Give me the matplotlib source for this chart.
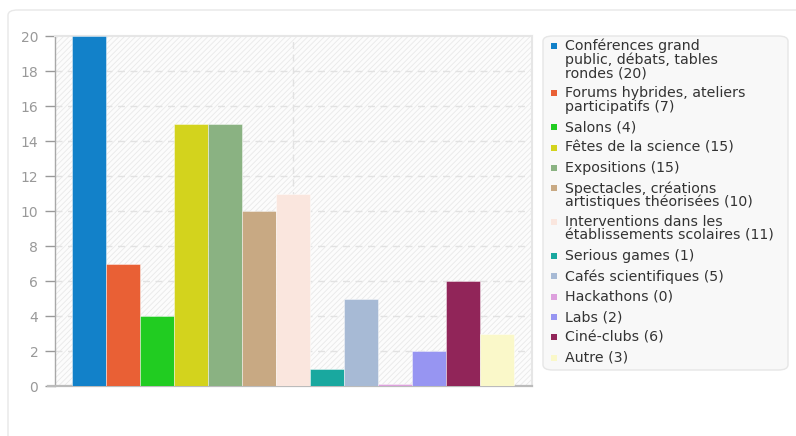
import matplotlib
matplotlib.use("Agg")
import matplotlib.pyplot as plt
from matplotlib.patches import Rectangle, FancyBboxPatch

plt.rcParams['font.family'] = ['DejaVu Sans']
plt.rcParams['hatch.linewidth'] = 0.6

labels = [
    "Conférences grand\npublic, débats, tables\nrondes",
    "Forums hybrides, ateliers\nparticipatifs",
    "Salons",
    "Fêtes de la science",
    "Expositions",
    "Spectacles, créations\nartistiques théorisées",
    "Interventions dans les\nétablissements scolaires",
    "Serious games",
    "Cafés scientifiques",
    "Hackathons",
    "Labs",
    "Ciné-clubs",
    "Autre",
]
values = [20, 7, 4, 15, 15, 10, 11, 1, 5, 0, 2, 6, 3]
colors = ["#1281c9", "#e96035", "#21cc21", "#d3d31d", "#8ab282", "#c8a983",
          "#fae6de", "#19a89f", "#a7bad5", "#dda0dd", "#9795f2", "#912559",
          "#faf8c9"]
yticks = [0, 2, 4, 6, 8, 10, 12, 14, 16, 18, 20]

W, H = 796, 436
fig = plt.figure(figsize=(W / 100, H / 100), dpi=100)


def fx(px):
    return px / W


def fy(py):
    return 1 - py / H


# card background
card = FancyBboxPatch((fx(8), fy(445)), fx(800), 435 / H,
                      boxstyle="round,pad=0,rounding_size=0.012",
                      transform=fig.transFigure, facecolor="white",
                      edgecolor="#e8e8e8", linewidth=1.0, zorder=-5)
fig.add_artist(card)

ax = fig.add_axes([fx(55), fy(386), 477 / W, 350 / H])
ax.set_facecolor("none")
ax.add_patch(Rectangle((0, 0), 1, 1, transform=ax.transAxes, facecolor="#fcfcfc",
                       edgecolor="#e9e9e9", hatch="//////", linewidth=0, zorder=0))

x = list(range(len(values)))
shown = [v if v > 0 else 0.14 for v in values]
ax.bar(x, shown, width=1.0, align="edge", color=colors, edgecolor=(1, 1, 1, 0.5),
       linewidth=0.6, zorder=3)

ax.set_xlim(-0.5, 13.53)
ax.set_ylim(0, 20)
ax.set_yticks(yticks)
ax.set_xticks([])
for t in yticks[1:-1]:
    ax.axhline(t, color="#e2e2e2", linestyle=(0, (5, 4)), linewidth=1, zorder=1)
ax.axvline(6.5, color="#e2e2e2", linestyle=(0, (5, 4)), linewidth=1, zorder=1)

ax.tick_params(axis="y", colors="#999999", labelcolor="#999999", labelsize=10,
               length=7, width=1, pad=5)
ax.spines["left"].set_color("#a8a8a8")
ax.spines["left"].set_linewidth(1)
ax.spines["bottom"].set_color("#bbbbbb")
ax.spines["bottom"].set_linewidth(1.6)
ax.spines["bottom"].set_bounds(-0.5 - 7 / 34, 13.53)
ax.spines["top"].set_color("#e6e6e6")
ax.spines["top"].set_linewidth(1.5)
ax.spines["right"].set_color("#e6e6e6")
ax.spines["right"].set_linewidth(1.5)

# legend drawn by hand so markers sit on the first line
box = FancyBboxPatch((fx(543), fy(370)), 245 / W, 334 / H,
                     boxstyle="round,pad=0,rounding_size=0.012",
                     transform=fig.transFigure, facecolor="#f8f8f8",
                     edgecolor="#e6e6e6", linewidth=1.0, zorder=1)
fig.add_artist(box)

line_h = 13.6
gap = 20.3
y = 46
for lab, v, c in zip(labels, values, colors):
    fig.add_artist(Rectangle((fx(551), fy(y + 3)), 6 / W, 6 / H,
                             transform=fig.transFigure, facecolor=c,
                             edgecolor="none", zorder=2))
    lines = f"{lab} ({v})".split("\n")
    for i, ln in enumerate(lines):
        fig.text(fx(565), fy(y + i * line_h), ln, fontsize=10.2, color="#333333",
                 va="center", ha="left", zorder=3)
    y += (len(lines) - 1) * line_h + gap

fig.savefig("out.png", dpi=100)
